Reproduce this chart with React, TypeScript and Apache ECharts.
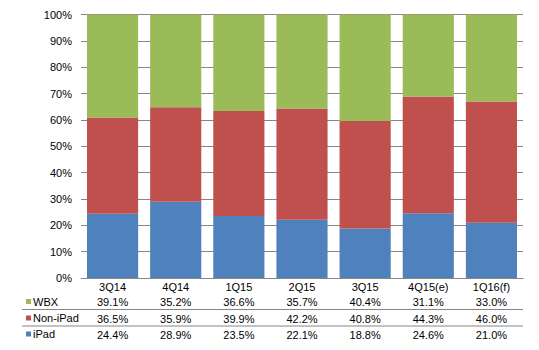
import React, { useEffect, useRef } from "react";
import * as echarts from "echarts";

const categories = ["3Q14", "4Q14", "1Q15", "2Q15", "3Q15", "4Q15(e)", "1Q16(f)"];
const wbx = [39.1, 35.2, 36.6, 35.7, 40.4, 31.1, 33.0];
const nonIpad = [36.5, 35.9, 39.9, 42.2, 40.8, 44.3, 46.0];
const ipad = [24.4, 28.9, 23.5, 22.1, 18.8, 24.6, 21.0];
const yTicks = [0, 10, 20, 30, 40, 50, 60, 70, 80, 90, 100];

const GREEN = "#9BBB59";
const RED = "#C0504D";
const BLUE = "#4F81BD";
const FONT = "Arial, 'Liberation Sans', sans-serif";

export default function App() {
  const ref = useRef<HTMLDivElement>(null);
  useEffect(() => {
    if (!ref.current) return;
    const chart = echarts.init(ref.current, null, { renderer: "svg" });
    const fmt = (arr: number[]) => arr.map((v) => v.toFixed(1) + "%");
    const tableAxis = (data: string[], offset: number) => ({
      type: "category" as const,
      data,
      position: "bottom" as const,
      offset,
      axisLine: { show: false },
      axisTick: { show: false },
      splitLine: { show: false },
      axisLabel: { color: "#000", fontSize: 11, fontFamily: FONT, margin: 3, interval: 0 },
    });
    const rows = [
      { name: "WBX", color: GREEN, y: 301.5 },
      { name: "Non-iPad", color: RED, y: 318 },
      { name: "iPad", color: BLUE, y: 334 },
    ];
    chart.setOption({
      animation: false,
      grid: { left: 81, right: 16, top: 14.5, bottom: 72, containLabel: false },
      xAxis: [
        {
          type: "category",
          data: categories,
          axisLine: { show: true, lineStyle: { color: "#868686", width: 1 } },
          axisTick: { show: false },
          axisLabel: { color: "#000", fontSize: 11, fontFamily: FONT, margin: 3, interval: 0 },
        },
        tableAxis(fmt(wbx), 15.5),
        tableAxis(fmt(nonIpad), 32),
        tableAxis(fmt(ipad), 48),
      ],
      yAxis: {
        type: "value",
        min: yTicks[0],
        max: yTicks[yTicks.length - 1],
        interval: 10,
        axisLine: { show: false },
        axisTick: { show: false },
        axisLabel: { formatter: "{value}%", color: "#000", fontSize: 11, fontFamily: FONT, margin: 9 },
        splitLine: { show: true, lineStyle: { color: "#868686", width: 1 } },
      },
      series: [
        { name: "iPad", type: "bar", stack: "s", data: ipad, itemStyle: { color: BLUE }, barCategoryGap: "19%" },
        { name: "Non-iPad", type: "bar", stack: "s", data: nonIpad, itemStyle: { color: RED }, barCategoryGap: "19%" },
        { name: "WBX", type: "bar", stack: "s", data: wbx, itemStyle: { color: GREEN }, barCategoryGap: "19%" },
      ],
      graphic: [
        ...rows.map((r) => ({
          type: "rect",
          shape: { x: 26, y: r.y - 2.5, width: 5, height: 5 },
          style: { fill: r.color },
        })),
        ...rows.map((r) => ({
          type: "text",
          x: 33,
          y: r.y,
          style: { text: r.name, fill: "#000", fontSize: 11, fontFamily: FONT, verticalAlign: "middle" },
        })),
        { type: "line", shape: { x1: 22, y1: 309.5, x2: 523, y2: 309.5 }, style: { stroke: "#868686", lineWidth: 1 } },
        { type: "line", shape: { x1: 22, y1: 326, x2: 523, y2: 326 }, style: { stroke: "#868686", lineWidth: 1 } },
      ],
    });
    return () => chart.dispose();
  }, []);
  return <div ref={ref} style={{ width: 539, height: 350, position: "absolute", left: 0, top: 0 }} />;
}
